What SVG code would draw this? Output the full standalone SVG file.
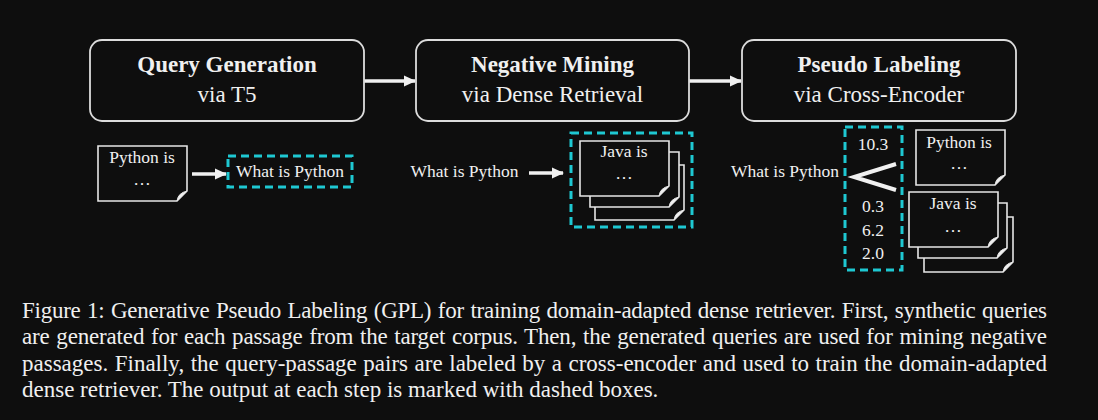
<svg xmlns="http://www.w3.org/2000/svg" xmlns:xlink="http://www.w3.org/1999/xlink" width="1098" height="420" viewBox="0 0 1098 420">
<style>
.bg{fill:#0e0e0e}
.box{fill:#0e0e0e;stroke:#dcdcdc;stroke-width:1.8}
.t{font-family:"Liberation Serif","Times New Roman",serif;fill:#f0f0f0;text-anchor:middle}
.title{font-size:23px;font-weight:bold}
.sub{font-size:23px}
.small{font-size:17.5px}
.dash{fill:none;stroke:#1ec8d2;stroke-width:3;stroke-dasharray:8 5}
.doc{fill:#0e0e0e;stroke:#e6e6e6;stroke-width:1.6}
.fold{fill:#f0f0f0;stroke:#e6e6e6;stroke-width:1}
.arrow{stroke:#f0f0f0;stroke-width:3.5;fill:none}
.cap{font-family:"Liberation Serif","Times New Roman",serif;font-size:23px;fill:#f0f0f0}
</style>
<defs>
<marker id="ah" markerUnits="userSpaceOnUse" markerWidth="12" markerHeight="12" refX="11" refY="6" orient="auto">
<path d="M0,0.5 L12,6 L0,11.5 Z" fill="#f0f0f0"/>
</marker>
<g id="doc">
<path class="doc" d="M0,0 H89 V45 L79,55 H0 Z"/>
<path class="fold" d="M89,45 L79,55 Q80,47 89,45 Z"/>
</g>
</defs>
<rect class="bg" x="0" y="0" width="1098" height="420"/>

<g id="connectors">
<line class="arrow" x1="364" y1="81" x2="415" y2="81" marker-end="url(#ah)"/>
<line class="arrow" x1="689" y1="81" x2="741" y2="81" marker-end="url(#ah)"/>
<line class="arrow" x1="192" y1="174" x2="226" y2="174" marker-end="url(#ah)"/>
<line class="arrow" x1="529" y1="173" x2="563" y2="173" marker-end="url(#ah)"/>
<path d="M896,164 L854,177 L896,190" fill="none" stroke="#f0f0f0" stroke-width="4"/>
</g>

<g id="query-generation">
<rect class="box" x="90" y="40" width="274" height="81" rx="12"/>
<text class="t title" x="227" y="72">Query Generation</text>
<text class="t sub" x="227" y="102">via T5</text>
</g>
<g id="negative-mining">
<rect class="box" x="416" y="40" width="273" height="81" rx="12"/>
<text class="t title" x="552.5" y="72">Negative Mining</text>
<text class="t sub" x="552.5" y="102">via Dense Retrieval</text>
</g>
<g id="pseudo-labeling">
<rect class="box" x="742" y="40" width="274" height="81" rx="12"/>
<text class="t title" x="879" y="72">Pseudo Labeling</text>
<text class="t sub" x="879" y="102">via Cross-Encoder</text>
</g>

<g id="step1-passage">
<use xlink:href="#doc" x="98" y="146"/>
<text class="t small" x="142" y="163">Python is</text>
<text class="t small" x="142" y="185">…</text>
</g>
<g id="step1-query">
<rect class="dash" x="228" y="156" width="124" height="31"/>
<text class="t small" x="290" y="177">What is Python</text>
</g>

<g id="step2-query">
<text class="t small" x="464.5" y="177">What is Python</text>
</g>
<g id="step2-negatives">
<rect class="dash" x="571" y="133" width="121" height="94"/>
<use xlink:href="#doc" x="595" y="165"/>
<use xlink:href="#doc" x="590" y="152"/>
<use xlink:href="#doc" x="580" y="141"/>
<text class="t small" x="624" y="157">Java is</text>
<text class="t small" x="624" y="179">…</text>
</g>

<g id="step3-query">
<text class="t small" x="785" y="177">What is Python</text>
</g>
<g id="step3-scores">
<rect class="dash" x="845" y="127" width="57" height="143"/>
<text class="t small" x="873" y="150">10.3</text>
<text class="t small" x="873" y="212">0.3</text>
<text class="t small" x="873" y="236">6.2</text>
<text class="t small" x="873" y="259">2.0</text>
</g>
<g id="step3-positive">
<use xlink:href="#doc" x="916" y="130"/>
<text class="t small" x="959" y="148">Python is</text>
<text class="t small" x="959" y="169">…</text>
</g>
<g id="step3-negatives">
<use xlink:href="#doc" x="924" y="217"/>
<use xlink:href="#doc" x="918" y="203"/>
<use xlink:href="#doc" x="909" y="192"/>
<text class="t small" x="953" y="209">Java is</text>
<text class="t small" x="953" y="232">…</text>
</g>

<g id="caption">
<text class="cap" x="22" y="318" word-spacing="1" textLength="1025" lengthAdjust="spacing">Figure 1: Generative Pseudo Labeling (GPL) for training domain-adapted dense retriever. First, synthetic queries</text>
<text class="cap" x="22" y="344" word-spacing="1.1" textLength="1025" lengthAdjust="spacing">are generated for each passage from the target corpus. Then, the generated queries are used for mining negative</text>
<text class="cap" x="22" y="371" word-spacing="0.8" textLength="1025" lengthAdjust="spacing">passages. Finally, the query-passage pairs are labeled by a cross-encoder and used to train the domain-adapted</text>
<text class="cap" x="22" y="397">dense retriever. The output at each step is marked with dashed boxes.</text>
</g>
</svg>
